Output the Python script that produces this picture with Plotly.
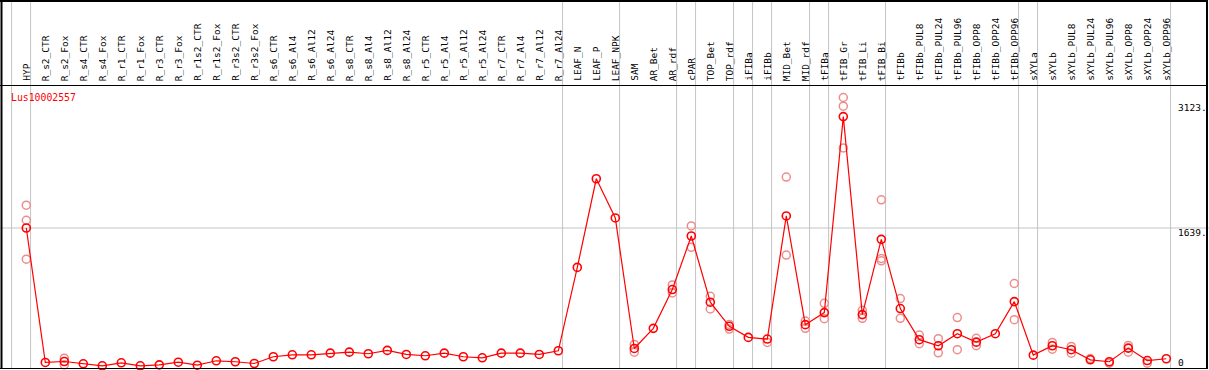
import plotly.graph_objects as go

W, H = 1209, 370

categories = ["HYP", "R_s2_CTR", "R_s2_Fox", "R_s4_CTR", "R_s4_Fox", "R_r1_CTR", "R_r1_Fox",
              "R_r3_CTR", "R_r3_Fox", "R_r1s2_CTR", "R_r1s2_Fox", "R_r3s2_CTR", "R_r3s2_Fox",
              "R_s6_CTR", "R_s6_Al4", "R_s6_Al12", "R_s6_Al24", "R_s8_CTR", "R_s8_Al4",
              "R_s8_Al12", "R_s8_Al24", "R_r5_CTR", "R_r5_Al4", "R_r5_Al12", "R_r5_Al24",
              "R_r7_CTR", "R_r7_Al4", "R_r7_Al12", "R_r7_Al24", "LEAF_N", "LEAF_P", "LEAF_NPK",
              "SAM", "AR_Bet", "AR_rdf", "cPAR", "TOP_Bet", "TOP_rdf", "iFIBa", "iFIBb",
              "MID_Bet", "MID_rdf", "tFIBa", "tFIB_Gr", "tFIB_Li", "tFIB_Bi", "tFIBb",
              "tFIBb_PUL8", "tFIBb_PUL24", "tFIBb_PUL96", "tFIBb_OPP8", "tFIBb_OPP24",
              "tFIBb_OPP96", "sXYLa", "sXYLb", "sXYLb_PUL8", "sXYLb_PUL24", "sXYLb_PUL96",
              "sXYLb_OPP8", "sXYLb_OPP24", "sXYLb_OPP96"]

mean_values = [1639, 110, 121, 95, 72, 106, 72, 83, 113, 79, 129, 118, 98,
               175, 197, 197, 216, 227, 209, 247, 201, 186, 216, 175, 163,
               216, 216, 201, 243, 1191, 2199, 1753,
               269, 498, 939, 1548, 795, 521, 395, 376,
               1776, 540, 677, 2906, 654, 1510, 723,
               369, 300, 437, 341, 437, 802,
               193, 300, 255, 140, 118, 273, 132, 152]

rep_categories = ["HYP", "HYP", "HYP", "R_s2_Fox", "R_s2_Fox", "SAM", "SAM", "AR_rdf", "AR_rdf",
                  "cPAR", "cPAR", "TOP_Bet", "TOP_Bet", "TOP_rdf", "TOP_rdf", "iFIBb",
                  "MID_Bet", "MID_Bet", "MID_rdf", "MID_rdf", "tFIBa", "tFIBa",
                  "tFIB_Gr", "tFIB_Gr", "tFIB_Gr", "tFIB_Li", "tFIB_Li",
                  "tFIB_Bi", "tFIB_Bi", "tFIB_Bi", "tFIBb", "tFIBb",
                  "tFIBb_PUL8", "tFIBb_PUL8", "tFIBb_PUL24", "tFIBb_PUL24",
                  "tFIBb_PUL96", "tFIBb_PUL96", "tFIBb_OPP8", "tFIBb_OPP8",
                  "tFIBb_OPP96", "tFIBb_OPP96", "sXYLb", "sXYLb", "sXYLb_PUL8", "sXYLb_PUL8",
                  "sXYLb_PUL24", "sXYLb_PUL96", "sXYLb_OPP8", "sXYLb_OPP8", "sXYLb_OPP24"]
rep_values = [1898, 1727, 1285, 159, 83, 315, 227, 992, 901,
              1662, 1419, 863, 718, 543, 490, 338,
              2218, 1331, 581, 498, 783, 608,
              3123, 3024, 2549, 703, 612,
              1959, 1293, 1266, 837, 612,
              421, 323, 380, 220,
              620, 255, 384, 300,
              1008, 597, 338, 261, 292, 216,
              155, 102, 304, 227, 102]

group_ends = [-1, 0, 28, 31, 34, 35, 37, 38, 39, 41, 42, 45, 52, 53, 60]
axis_labels = ["3123.", "1639.", "0"]
axis_label_pixel_y = [107.3, 232.3, 362]
reference_value = 1639
gene_name = "Lus10002557"

FONT = "DejaVu Sans Mono"

fig = go.Figure()

fig.add_trace(go.Scatter(
    x=rep_categories, y=rep_values, mode="markers",
    marker=dict(symbol="circle-open", size=8, color="rgb(238,140,140)", line=dict(width=1.5)),
    cliponaxis=False, showlegend=False, hoverinfo="x+y"))

fig.add_trace(go.Scatter(
    x=categories, y=mean_values, mode="lines+markers",
    line=dict(color="red", width=1.2),
    marker=dict(symbol="circle-open", size=8, color="red", line=dict(width=1.6)),
    cliponaxis=False, showlegend=False, hoverinfo="x+y"))

# y scale: value 1639 at 228px from top, 3123 at ~97.5px
upp = (3123 - 1639) / (228 - 97.5)
y_top = 1639 + 228 * upp
y_bot = 1639 - (H - 228) * upp

x0 = -26.3 / 19
x1 = (W - 26.3) / 19


def px(xp):
    return xp / W


def py(yp):
    return (H - yp) / H


shapes = []
for g in group_ends:
    shapes.append(dict(type="line", xref="x", yref="paper", x0=g + 0.226, x1=g + 0.226,
                       y0=py(368), y1=1, line=dict(color="#c4c4c4", width=1), layer="below"))
shapes.append(dict(type="line", xref="paper", yref="y", x0=0, x1=1, y0=reference_value,
                   y1=reference_value, line=dict(color="#c4c4c4", width=1), layer="below"))
# frame
shapes += [
    dict(type="line", xref="paper", yref="paper", x0=px(0), x1=px(1208), y0=py(1), y1=py(1),
         line=dict(color="black", width=2)),
    dict(type="line", xref="paper", yref="paper", x0=px(0), x1=px(1208), y0=py(85.5), y1=py(85.5),
         line=dict(color="black", width=1)),
    dict(type="line", xref="paper", yref="paper", x0=px(0), x1=px(1208), y0=py(368.5), y1=py(368.5),
         line=dict(color="black", width=1)),
    dict(type="line", xref="paper", yref="paper", x0=px(1.5), x1=px(1.5), y0=py(0), y1=py(369),
         line=dict(color="black", width=2)),
    dict(type="line", xref="paper", yref="paper", x0=px(1207), x1=px(1207), y0=py(0), y1=py(369),
         line=dict(color="black", width=2)),
]

annotations = []
for c in categories:
    annotations.append(dict(x=c, xref="x", y=py(83), yref="paper", text=c, textangle=-90,
                            showarrow=False, xanchor="center", yanchor="bottom",
                            font=dict(family=FONT, size=9.5, color="black")))
annotations.append(dict(x=px(9), xref="paper", y=py(97), yref="paper", text=gene_name,
                        showarrow=False, xanchor="left", yanchor="middle",
                        font=dict(family=FONT, size=9.8, color="red")))
for t, yp in zip(axis_labels, axis_label_pixel_y):
    annotations.append(dict(x=px(1176), xref="paper", y=py(yp), yref="paper", text=t,
                            showarrow=False, xanchor="left", yanchor="middle",
                            font=dict(family=FONT, size=9.5, color="black")))

fig.update_layout(
    width=W, height=H, margin=dict(l=0, r=0, t=0, b=0),
    paper_bgcolor="white", plot_bgcolor="white",
    xaxis=dict(type="category", categoryorder="array", categoryarray=categories,
               range=[x0, x1], showgrid=False, showticklabels=False, zeroline=False, ticks=""),
    yaxis=dict(range=[y_bot, y_top], showgrid=False, showticklabels=False, zeroline=False, ticks=""),
    shapes=shapes, annotations=annotations, showlegend=False,
)

fig.write_html("out.html", config={"displayModeBar": False},
               post_script="document.body.style.margin='0px';document.body.style.overflow='hidden';")
